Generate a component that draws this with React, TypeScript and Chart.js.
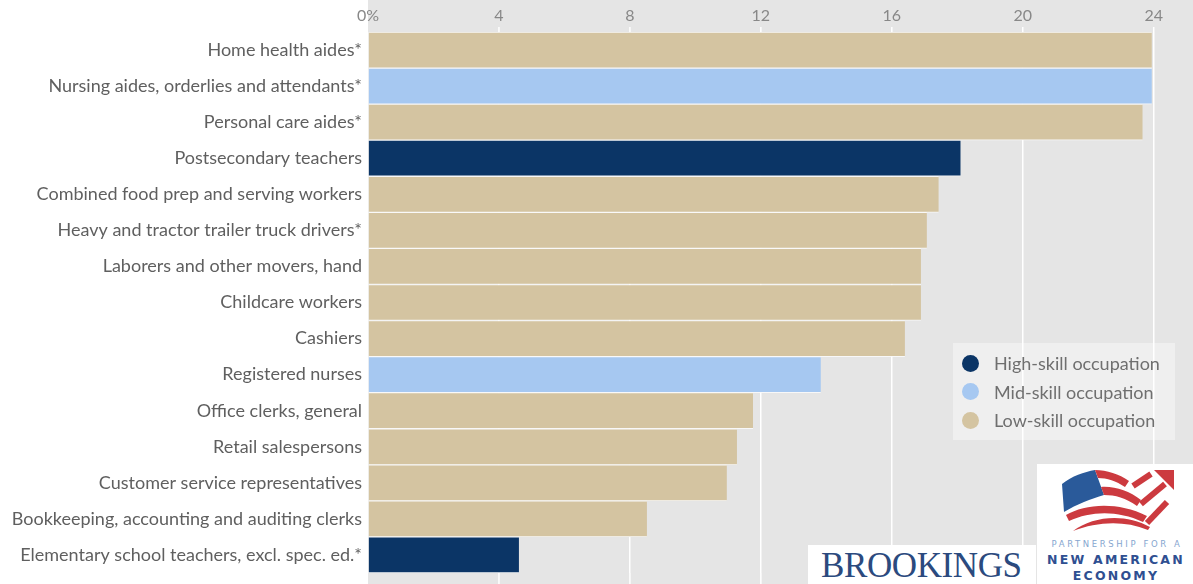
import React, { useEffect, useRef } from "react";
import { Chart, registerables } from "chart.js";

Chart.register(...registerables);

const categories: string[] = [
  "Home health aides*",
  "Nursing aides, orderlies and attendants*",
  "Personal care aides*",
  "Postsecondary teachers",
  "Combined food prep and serving workers",
  "Heavy and tractor trailer truck drivers*",
  "Laborers and other movers, hand",
  "Childcare workers",
  "Cashiers",
  "Registered nurses",
  "Office clerks, general",
  "Retail salespersons",
  "Customer service representatives",
  "Bookkeeping, accounting and auditing clerks",
  "Elementary school teachers, excl. spec. ed.*",
];

const values: number[] = [
  23.94, 23.94, 23.66, 18.1, 17.43, 17.07, 16.89, 16.89, 16.4, 13.83, 11.76, 11.27, 10.96, 8.52, 4.61,
];

const skill: string[] = [
  "low", "mid", "low", "high", "low", "low", "low", "low", "low", "mid", "low", "low", "low", "low", "high",
];

const tickValues: number[] = [0, 4, 8, 12, 16, 20, 24];
const tickLabels: string[] = ["0%", "4", "8", "12", "16", "20", "24"];

const legendKeys: string[] = ["high", "mid", "low"];
const legendLabels: string[] = ["High-skill occupation", "Mid-skill occupation", "Low-skill occupation"];

const skillColors: Record<string, string> = {
  high: "#0b3566",
  mid: "#a6c8f1",
  low: "#d4c4a1",
};

const FONT = "Lato, 'Open Sans', sans-serif";

const bgPlugin = {
  id: "grayBg",
  beforeDraw(chart: any) {
    const { ctx, chartArea, width, height } = chart;
    ctx.save();
    ctx.fillStyle = "#e5e5e5";
    ctx.fillRect(chartArea.left, 0, width - chartArea.left, height);
    const x = chart.scales.x;
    ctx.strokeStyle = "#ffffff";
    ctx.lineWidth = 1.5;
    tickValues.forEach((v) => {
      if (v === 0) return;
      const px = x.getPixelForValue(v);
      ctx.beginPath();
      ctx.moveTo(px, 27);
      ctx.lineTo(px, chartArea.top);
      ctx.moveTo(px, chartArea.bottom);
      ctx.lineTo(px, height);
      ctx.stroke();
    });
    ctx.restore();
  },
};

function ChartView() {
  const ref = useRef<HTMLCanvasElement | null>(null);
  useEffect(() => {
    document.body.style.margin = "0";
    if (!ref.current) return;
    const chart = new Chart(ref.current, {
      type: "bar",
      data: {
        labels: categories,
        datasets: [
          {
            data: values,
            backgroundColor: skill.map((s) => skillColors[s]),
            borderColor: "rgba(250,250,250,0.9)",
            borderWidth: { top: 1, bottom: 1, left: 0, right: 0 },
            borderSkipped: false,
            categoryPercentage: 1,
            barPercentage: 1,
          },
        ],
      },
      options: {
        indexAxis: "y",
        animation: false,
        responsive: false,
        devicePixelRatio: 1,
        layout: { autoPadding: false, padding: { top: 0, bottom: 11, left: 0, right: 0 } },
        plugins: {
          legend: { display: false },
          tooltip: { enabled: false },
        },
        scales: {
          x: {
            position: "top",
            min: 0,
            max: 25.2,
            afterBuildTicks: (scale: any) => {
              scale.ticks = tickValues.map((v) => ({ value: v }));
            },
            afterFit: (scale: any) => {
              scale.height = 32;
              scale.paddingLeft = 0;
              scale.paddingRight = 0;
            },
            ticks: {
              padding: 7,
              color: "#888888",
              font: { family: FONT, size: 16 },
              callback: (value: any) => {
                const i = tickValues.indexOf(Number(value));
                return i >= 0 ? tickLabels[i] : "";
              },
            },
            grid: {
              color: "#ffffff",
              lineWidth: 1.5,
              drawTicks: false,
              tickLength: 0,
            },
            border: { display: false },
          },
          y: {
            afterFit: (scale: any) => {
              scale.width = 368;
              scale.paddingTop = 0;
              scale.paddingBottom = 0;
            },
            ticks: {
              padding: 6,
              color: "#5f5f5f",
              font: { family: FONT, size: 18 },
            },
            grid: { display: false, drawTicks: false },
            border: { display: false },
          },
        },
      },
      plugins: [bgPlugin],
    } as any);
    return () => chart.destroy();
  }, []);
  return <canvas ref={ref} width={1193} height={584} style={{ display: "block" }} />;
}

function Legend() {
  return (
    <div
      style={{
        position: "absolute",
        left: 953,
        top: 343,
        width: 222,
        height: 97,
        background: "rgba(255,255,255,0.4)",
        fontFamily: FONT,
        fontSize: 18,
        color: "#6f6f6f",
        boxSizing: "border-box",
        paddingTop: 6,
        paddingLeft: 9,
      }}
    >
      {legendKeys.map((k, i) => (
        <div key={k} style={{ display: "flex", alignItems: "center", height: 28.5, whiteSpace: "nowrap" }}>
          <span
            style={{
              display: "inline-block",
              width: 17,
              height: 17,
              borderRadius: "50%",
              background: skillColors[k],
              marginRight: 15,
              flex: "0 0 auto",
            }}
          />
          <span>{legendLabels[i]}</span>
        </div>
      ))}
    </div>
  );
}

function Logos() {
  const red = "#cc3a3f";
  return (
    <>
      <div
        style={{
          position: "absolute",
          left: 808,
          top: 545,
          width: 228,
          height: 39,
          background: "#ffffff",
          fontFamily: "'Liberation Serif', 'Times New Roman', serif",
          fontSize: 35,
          color: "#2b4a7e",
          lineHeight: "42px",
          paddingLeft: 13,
          boxSizing: "border-box",
          whiteSpace: "nowrap",
          letterSpacing: -0.4,
          overflow: "hidden",
        }}
      >
        BROOKINGS
      </div>
      <div
        style={{
          position: "absolute",
          left: 1037,
          top: 464,
          width: 156,
          height: 120,
          background: "#ffffff",
        }}
      >
        <svg width={156} height={120} style={{ position: "absolute", left: 0, top: 0 }}>
          <path d="M25 20 C 35 12, 47 8, 58 6 L 67 31 C 54 35, 40 40, 27 48 Z" fill="#2a5a9a" />
          <path d="M58 6 C 70 6, 82 10, 92 17 L 88 23 C 79 17, 70 14, 61 14 Z" fill={red} />
          <path d="M64 23 C 78 22, 92 27, 104 36 L 100 42 C 89 34, 78 31, 67 31 Z" fill={red} />
          <path d="M29 51 C 48 40, 80 37, 110 52 L 106 58 C 80 46, 54 47, 32 57 Z" fill={red} />
          <path d="M36 67 C 56 52, 88 49, 113 63 L 111 66 C 86 56, 60 58, 36 67 Z" fill={red} />
          <path d="M96 22 L 114 10" stroke={red} strokeWidth={6} fill="none" />
          <path d="M104 40 L 128 20" stroke={red} strokeWidth={6} fill="none" />
          <path d="M110 59 L 130 38" stroke={red} strokeWidth={6} fill="none" />
          <path d="M117 6 L 137 6 L 137 26 Z" fill={red} />
        </svg>
        <div
          style={{
            position: "absolute",
            left: 0,
            top: 75,
            width: 160,
            textAlign: "center",
            fontFamily: "'DejaVu Sans', sans-serif",
            fontSize: 8.5,
            letterSpacing: 2.6,
            color: "#86a6cf",
            whiteSpace: "nowrap",
          }}
        >
          PARTNERSHIP FOR A
        </div>
        <div
          style={{
            position: "absolute",
            left: 0,
            top: 88,
            width: 158,
            textAlign: "center",
            fontFamily: "'DejaVu Sans', sans-serif",
            fontWeight: "bold",
            fontSize: 12.5,
            letterSpacing: 2.2,
            color: "#2f4f91",
            whiteSpace: "nowrap",
          }}
        >
          NEW AMERICAN
        </div>
        <div
          style={{
            position: "absolute",
            left: 0,
            top: 104,
            width: 158,
            textAlign: "center",
            fontFamily: "'DejaVu Sans', sans-serif",
            fontWeight: "bold",
            fontSize: 12.5,
            letterSpacing: 2.2,
            color: "#2f4f91",
            whiteSpace: "nowrap",
          }}
        >
          ECONOMY
        </div>
      </div>
    </>
  );
}

export default function App() {
  return (
    <div style={{ position: "relative", width: 1193, height: 584, overflow: "hidden", background: "#ffffff" }}>
      <ChartView />
      <Legend />
      <Logos />
    </div>
  );
}
